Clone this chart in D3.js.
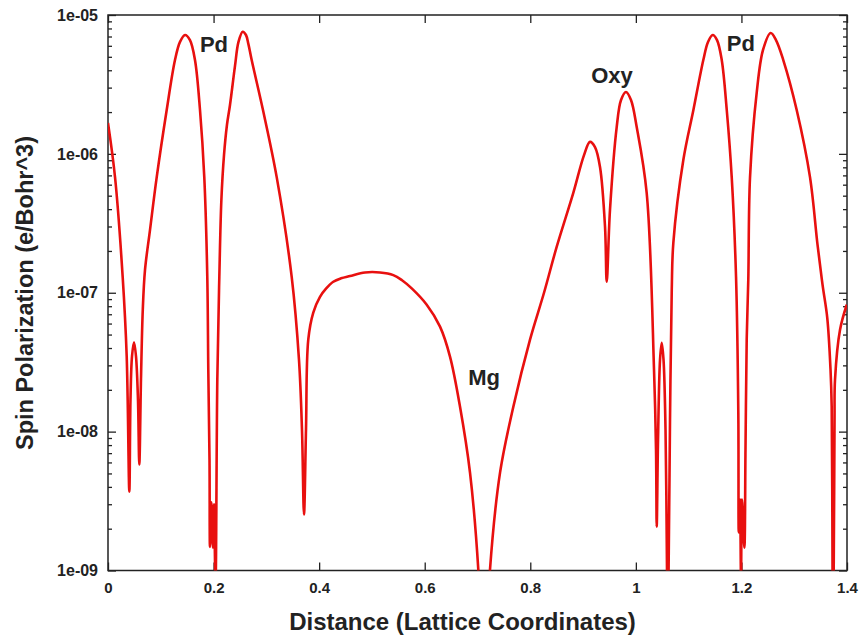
<!DOCTYPE html>
<html>
<head>
<meta charset="utf-8">
<script src="https://cdn.jsdelivr.net/npm/d3@7"></script>
<style>
  body { margin: 0; background: #fff; }
  svg { font-family: "Liberation Sans", Arial, sans-serif; }
</style>
</head>
<body>
<svg id="chart" width="865" height="640"></svg>
<script>
// distance along the cut (lattice coordinates)
const distance = [
  0, 0.0133, 0.0278, 0.0354, 0.0404, 0.0426, 0.0455, 0.0493, 0.053,
  0.0568, 0.0593, 0.0625, 0.0659, 0.0701, 0.0796, 0.0923, 0.1112, 0.1269, 0.1364, 0.1459,
  0.1553, 0.1648, 0.1743, 0.1824, 0.1881, 0.19, 0.1923, 0.1932, 0.1959, 0.1989,
  0.2008, 0.2037, 0.2071, 0.2109, 0.2148, 0.2198, 0.2254, 0.2311, 0.2406, 0.2472, 0.2552,
  0.2614, 0.266, 0.2722, 0.2936, 0.3196, 0.348, 0.3618, 0.3675, 0.3713, 0.3751, 0.3794,
  0.3889, 0.4016, 0.413, 0.4268, 0.4414, 0.4585, 0.4869, 0.5153, 0.5405, 0.557, 0.5759, 0.6038, 0.629, 0.6479,
  0.6669, 0.6858, 0.7015, 0.7048, 0.72, 0.7237, 0.7427, 0.7679, 0.7995, 0.826,
  0.85, 0.8815, 0.9018, 0.9131, 0.9226, 0.9321, 0.9416, 0.9448, 0.951, 0.9637,
  0.9719, 0.9813, 0.9908, 1.0016, 1.0205, 1.0344, 1.0382, 1.0395, 1.042,
  1.0458, 1.049, 1.0524, 1.0562, 1.059, 1.06, 1.062, 1.0647, 1.068, 1.071,
  1.09, 1.109, 1.1278, 1.1367, 1.1456, 1.1538, 1.1627, 1.1722, 1.1816, 1.1898,
  1.1941, 1.195, 1.1973, 1.1992, 1.2011, 1.2055, 1.2077, 1.21, 1.213, 1.2163,
  1.2289, 1.2409, 1.2555, 1.2655, 1.2793, 1.3047, 1.3299, 1.3442, 1.3537, 1.3626, 1.3688,
  1.371, 1.3726, 1.3735, 1.3748, 1.3764, 1.3773, 1.3868, 1.3995
]

// spin polarization (e/Bohr^3)
const spin = [
  1.67e-6, 6.8e-7, 1.3e-7, 3.5e-8, 3.7e-9, 1.7e-8, 3.5e-8, 4.4e-8, 3.5e-8,
  1.7e-8, 5.8e-9, 2.4e-8, 7.55e-8, 1.46e-7, 2.84e-7, 6.8e-7, 2.07e-6, 4.74e-6, 6.4e-6, 7.18e-6,
  6.6e-6, 4.74e-6, 2.07e-6, 6.8e-7, 1.3e-7, 2.8e-8, 6.3e-9, 1.48e-9, 3.1e-9, 1.46e-9,
  3.0e-9, 8e-10, 2.4e-8, 1.3e-7, 4.67e-7, 9.84e-7, 1.62e-6, 2.25e-6, 4.3e-6, 6.4e-6, 7.58e-6,
  7.18e-6, 6.17e-6, 4.74e-6, 2.07e-6, 6.8e-7, 1.3e-7, 3.3e-8, 1.03e-8, 2.53e-9, 1.03e-8, 4.6e-8,
  7.2e-8, 9.35e-8, 1.07e-7, 1.2e-7, 1.27e-7, 1.32e-7, 1.4e-7, 1.4e-7, 1.34e-7, 1.23e-7, 1.07e-7, 8.2e-8, 5.7e-8, 3.47e-8,
  1.51e-8, 5.07e-9, 1.02e-9, 5e-10, 5e-10, 1.02e-9, 5.07e-9, 1.51e-8, 4.6e-8, 1.0e-7,
  2.14e-7, 5.24e-7, 9.8e-7, 1.22e-6, 1.12e-6, 8.05e-7, 2.98e-7, 1.2e-7, 3.95e-7, 1.56e-6,
  2.44e-6, 2.79e-6, 2.44e-6, 1.56e-6, 5.24e-7, 2.8e-8, 7.4e-9, 2.07e-9, 8.7e-9,
  3.3e-8, 4.37e-8, 3.3e-8, 1.03e-8, 1e-9, 5e-10, 1e-9, 1.22e-8, 1.05e-7, 2.29e-7,
  9.06e-7, 2.07e-6, 4.74e-6, 6.4e-6, 7.18e-6, 6.6e-6, 4.74e-6, 2.07e-6, 6.8e-7, 1.3e-7,
  1.37e-8, 1.88e-9, 3.24e-9, 9e-10, 3.24e-9, 1.46e-9, 7.4e-9, 4.6e-8, 1.24e-7, 6.8e-7,
  2.75e-6, 5.6e-6, 7.42e-6, 6.6e-6, 4.74e-6, 2.07e-6, 6.8e-7, 2.21e-7, 1.14e-7, 6.6e-8, 2.79e-8,
  1.51e-8, 1e-9, 5e-10, 1e-9, 1.22e-8, 2.37e-8, 5.42e-8, 8.2e-8
]

const xTicks = [0, 0.2, 0.4, 0.6, 0.8, 1, 1.2, 1.4]
const xTickLabels = ['0', '0.2', '0.4', '0.6', '0.8', '1', '1.2', '1.4']
const yTicks = [1e-9, 1e-8, 1e-7, 1e-6, 1e-5]
const yTickLabels = ['1e-09', '1e-08', '1e-07', '1e-06', '1e-05']

// element labels placed in data coordinates
const atomNames = ['Pd', 'Oxy', 'Mg', 'Pd']
const atomX = [0.2008, 0.9548, 0.7124, 1.199]
const atomY = [5.42e-6, 3.24e-6, 2.18e-8, 5.5e-6]

const plotLeft = 108
const plotRight = 847
const plotTop = 15
const plotBottom = 570.5

const svg = d3.select('#chart')

const x = d3.scaleLinear().domain([0, 1.4]).range([plotLeft, plotRight])
const y = d3.scaleLog().domain([1e-9, 1e-5]).range([plotBottom, plotTop])

// minor log ticks 2..9 within every decade
const yMinor = []
yTicks.slice(0, -1).forEach(d => {
  for (let k = 2; k <= 9; k++) yMinor.push(d * k)
})

const styleAxis = size => g => {
  g.select('.domain').remove()
  g.selectAll('line').attr('stroke', '#222').attr('stroke-width', 1.3)
  g.selectAll('text')
    .attr('fill', '#222')
    .style('font-size', size + 'px')
    .style('font-weight', 'bold')
    .style('font-family', '"Liberation Sans", Arial, sans-serif')
}

// bottom + top
svg.append('g')
  .attr('transform', `translate(0,${plotBottom})`)
  .call(d3.axisBottom(x).tickValues(xTicks)
    .tickFormat((d, i) => xTickLabels[i]).tickSize(-8).tickPadding(12))
  .call(styleAxis(15))

svg.append('g')
  .attr('transform', `translate(0,${plotTop})`)
  .call(d3.axisTop(x).tickValues(xTicks).tickFormat('').tickSize(-8))
  .call(styleAxis(15))

// left + right, major and minor
svg.append('g')
  .attr('transform', `translate(${plotLeft},0)`)
  .call(d3.axisLeft(y).tickValues(yTicks)
    .tickFormat((d, i) => yTickLabels[i]).tickSize(-8).tickPadding(10))
  .call(styleAxis(16))

svg.append('g')
  .attr('transform', `translate(${plotLeft},0)`)
  .call(d3.axisLeft(y).tickValues(yMinor).tickFormat('').tickSize(-4))
  .call(styleAxis(16))

svg.append('g')
  .attr('transform', `translate(${plotRight},0)`)
  .call(d3.axisRight(y).tickValues(yTicks).tickFormat('').tickSize(-8))
  .call(styleAxis(16))

svg.append('g')
  .attr('transform', `translate(${plotRight},0)`)
  .call(d3.axisRight(y).tickValues(yMinor).tickFormat('').tickSize(-4))
  .call(styleAxis(16))

// frame
svg.append('rect')
  .attr('x', plotLeft)
  .attr('y', plotTop)
  .attr('width', plotRight - plotLeft)
  .attr('height', plotBottom - plotTop)
  .attr('fill', 'none')
  .attr('stroke', '#222')
  .attr('stroke-width', 1.5)

svg.append('clipPath')
  .attr('id', 'plotClip')
  .append('rect')
  .attr('x', plotLeft)
  .attr('y', plotTop)
  .attr('width', plotRight - plotLeft)
  .attr('height', plotBottom - plotTop)

const line = d3.line()
  .x(d => x(d[0]))
  .y(d => y(d[1]))
  .curve(d3.curveCatmullRom.alpha(0.5))

svg.append('path')
  .datum(d3.zip(distance, spin))
  .attr('clip-path', 'url(#plotClip)')
  .attr('d', line)
  .attr('fill', 'none')
  .attr('stroke', '#e8100f')
  .attr('stroke-width', 2.6)
  .attr('stroke-linejoin', 'round')

// atom labels
svg.selectAll('text.atom')
  .data(atomNames)
  .enter()
  .append('text')
  .attr('class', 'atom')
  .attr('x', (d, i) => x(atomX[i]))
  .attr('y', (d, i) => y(atomY[i]))
  .attr('text-anchor', 'middle')
  .style('font-size', '22px')
  .style('font-weight', 'bold')
  .attr('fill', '#222')
  .text(d => d)

// axis titles
svg.append('text')
  .attr('x', (plotLeft + plotRight) / 2 - 15)
  .attr('y', 630)
  .attr('text-anchor', 'middle')
  .style('font-size', '24px')
  .style('font-weight', 'bold')
  .attr('fill', '#222')
  .text('Distance (Lattice Coordinates)')

svg.append('text')
  .attr('transform', 'translate(33,293) rotate(-90)')
  .attr('text-anchor', 'middle')
  .style('font-size', '23.5px')
  .style('font-weight', 'bold')
  .attr('fill', '#222')
  .text('Spin Polarization (e/Bohr^3)')
</script>
</body>
</html>
